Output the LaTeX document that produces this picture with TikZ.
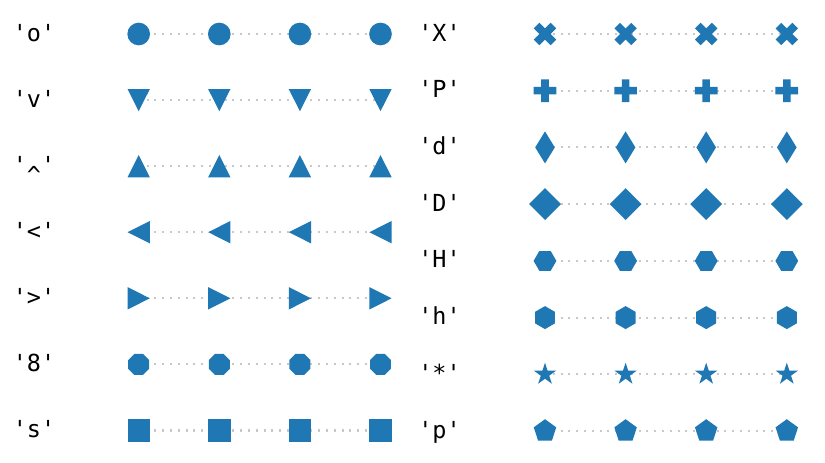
\documentclass[tikz,border=0pt]{standalone}
\usepackage{fontspec}
\setmonofont{DejaVu Sans Mono}
\definecolor{mblue}{HTML}{1F77B4}
\definecolor{dotgray}{HTML}{C8C8C8}
\tikzset{
  mk/.style={fill=mblue},
  dotline/.style={draw=dotgray, line width=1.55pt, dash pattern=on 1.55pt off 4.3pt},
  lbl/.style={font=\ttfamily\fontsize{17.6}{20}\selectfont, anchor=base east, inner sep=0pt},
  mkcirc/.pic={\fill[mk] (0,0) circle[radius=8.5pt];},
  mkdown/.pic={\fill[mk] (0,-11.1) -- (-11.2,11.1) -- (11.2,11.1) -- cycle;},
  mkup/.pic={\fill[mk] (0,11.1) -- (-11.2,-11.1) -- (11.2,-11.1) -- cycle;},
  mkleft/.pic={\fill[mk] (-11.1,0) -- (11.1,11.2) -- (11.1,-11.2) -- cycle;},
  mkright/.pic={\fill[mk] (11.1,0) -- (-11.1,11.2) -- (-11.1,-11.2) -- cycle;},
  mkoct/.pic={\fill[mk] (22.5:11.35) \foreach \a in {67.5,112.5,157.5,202.5,247.5,292.5,337.5}{ -- (\a:11.35)} -- cycle;},
  mksq/.pic={\fill[mk] (-11.2,-11.2) rectangle (11.2,11.2);},
  mkx/.pic={\fill[mk,scale=5.6] (-1,-2) -- (0,-1) -- (1,-2) -- (2,-1) -- (1,0) -- (2,1) -- (1,2) -- (0,1) -- (-1,2) -- (-2,1) -- (-1,0) -- (-2,-1) -- cycle;},
  mkplus/.pic={\fill[mk,scale=3.78] (-1,-3) -- (1,-3) -- (1,-1) -- (3,-1) -- (3,1) -- (1,1) -- (1,3) -- (-1,3) -- (-1,1) -- (-3,1) -- (-3,-1) -- (-1,-1) -- cycle;},
  mkthin/.pic={\fill[mk] (0,16) -- (9.8,0) -- (0,-16) -- (-9.8,0) -- cycle;},
  mkdiam/.pic={\fill[mk] (0,15.9) -- (15.9,0) -- (0,-15.9) -- (-15.9,0) -- cycle;},
  mkhexH/.pic={\fill[mk] (0:11.4) \foreach \a in {60,120,180,240,300}{ -- (\a:11.4)} -- cycle;},
  mkhexh/.pic={\fill[mk] (90:11.5) \foreach \a in {150,210,270,330,30}{ -- (\a:11.5)} -- cycle;},
  mkstar/.pic={\fill[mk] (90:11.6) \foreach \a/\r in {126/4.45,162/11.6,198/4.45,234/11.6,270/4.45,306/11.6,342/4.45,18/11.6,54/4.45}{ -- (\a:\r)} -- cycle;},
  mkpent/.pic={\fill[mk] (90:11.8) \foreach \a in {162,234,306,18}{ -- (\a:11.8)} -- cycle;},
}
% #1 id, #2 first x, #3 image y, #4 label right x, #5 label, #6 pic
\newcommand\mkrow[6]{%
  \foreach \k in {0,1,2,3}{\coordinate (#1\k) at ({#2+80.6*\k},{462-#3});}
  \draw[dotline] (#10) -- (#13);
  \foreach \k in {0,1,2,3}{\pic at (#1\k) {#6};}
  \node[lbl] (#1lbl) at (#4,{462-#3-7}) {#5};
}
\begin{document}
\begin{tikzpicture}[x=0.75pt,y=0.75pt]
\fill[white] (0,0) rectangle (825,462);
\useasboundingbox (0,0) rectangle (825,462);
% left column
\mkrow{la}{138.7}{34}{55.5}{'o'}{mkcirc}
\mkrow{lb}{138.7}{100.1}{55.5}{'v'}{mkdown}
\mkrow{lc}{138.7}{166.2}{55.5}{'\raisebox{-7.9pt}{\textasciicircum}'}{mkup}
\mkrow{ld}{138.7}{232.2}{55.5}{'<'}{mkleft}
\mkrow{le}{138.7}{298.3}{55.5}{'>'}{mkright}
\mkrow{lf}{138.7}{364.4}{55.5}{'8'}{mkoct}
\mkrow{lg}{138.7}{430.5}{55.5}{'s'}{mksq}
% right column
\mkrow{ra}{545}{34}{461}{'X'}{mkx}
\mkrow{rb}{545}{90.7}{461}{'P'}{mkplus}
\mkrow{rc}{545}{147.4}{461}{'d'}{mkthin}
\mkrow{rd}{545}{204.1}{461}{'D'}{mkdiam}
\mkrow{re}{545}{260.9}{461}{'H'}{mkhexH}
\mkrow{rf}{545}{317.6}{461}{'h'}{mkhexh}
\mkrow{rg}{545}{374.3}{461}{'*'}{mkstar}
\mkrow{rh}{545}{431}{461}{'p'}{mkpent}
\end{tikzpicture}
\end{document}
